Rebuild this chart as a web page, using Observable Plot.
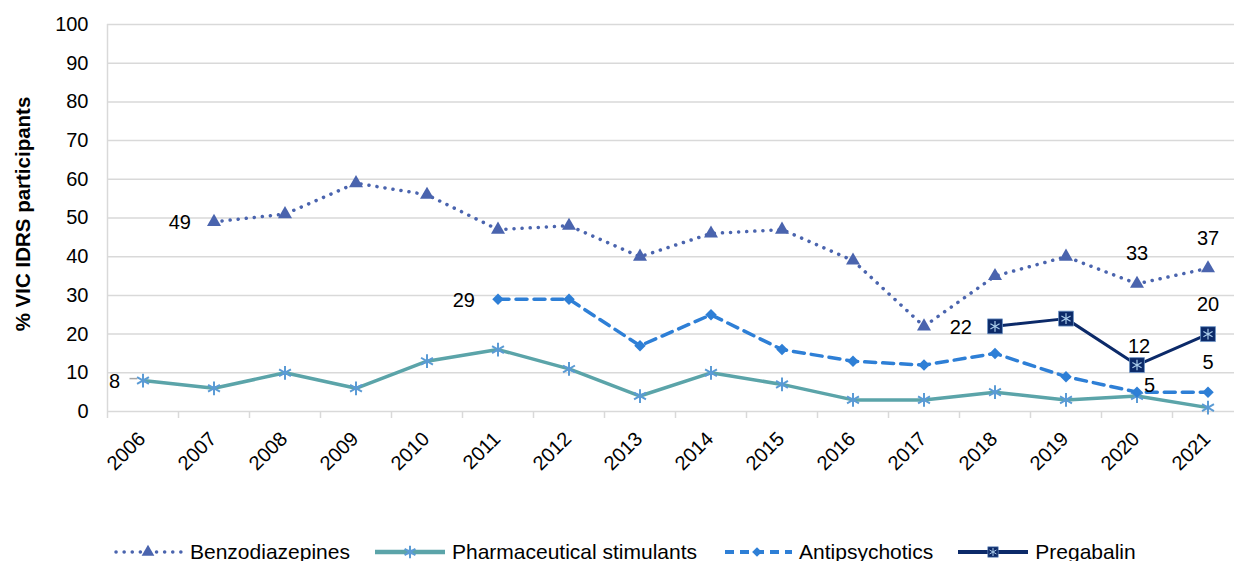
<!DOCTYPE html>
<html>
<head>
<meta charset="utf-8">
<script src="https://cdn.jsdelivr.net/npm/d3@7"></script>
<script src="https://cdn.jsdelivr.net/npm/@observablehq/plot@0.6"></script>
<style>
  html, body { margin: 0; padding: 0; background: #fff; }
  body { width: 1234px; height: 561px; overflow: hidden; font-family: "Liberation Sans", Arial, sans-serif; }
  #chart svg { display: block; }
  #legend { display: flex; align-items: center; height: 24px; line-height: 24px; font-size: 21px; color: #000; padding-left: 113px; white-space: nowrap; }
  .item { display: flex; align-items: center; margin-right: 25px; }
  .item svg { margin-right: 7px; display: block; }
</style>
</head>
<body>
<div id="chart"></div>
<div id="legend"></div>
<script>
const years = [2006, 2007, 2008, 2009, 2010, 2011, 2012, 2013, 2014, 2015, 2016, 2017, 2018, 2019, 2020, 2021];
const benzodiazepines = [null, 49, 51, 59, 56, 47, 48, 40, 46, 47, 39, 22, 35, 40, 33, 37];
const stimulants = [8, 6, 10, 6, 13, 16, 11, 4, 10, 7, 3, 3, 5, 3, 4, 1];
const antipsychotics = [null, null, null, null, null, 29, 29, 17, 25, 16, 13, 12, 15, 9, 5, 5];
const pregabalin = [null, null, null, null, null, null, null, null, null, null, null, null, 22, 24, 12, 20];
const seriesNames = ["Benzodiazepines", "Pharmaceutical stimulants", "Antipsychotics", "Pregabalin"];
const yTicks = [0, 10, 20, 30, 40, 50, 60, 70, 80, 90, 100];
const yTitle = "% VIC IDRS participants";
// labelled points: series index and year
const labelled = [
  {s: 0, year: 2007, place: "left"},
  {s: 0, year: 2020, place: "above"},
  {s: 0, year: 2021, place: "above"},
  {s: 1, year: 2006, place: "left"},
  {s: 2, year: 2011, place: "left"},
  {s: 2, year: 2020, place: "right"},
  {s: 2, year: 2021, place: "above"},
  {s: 3, year: 2018, place: "left"},
  {s: 3, year: 2020, place: "near"},
  {s: 3, year: 2021, place: "above"}
];

const C = {
  benzo: "#4A64AE",
  stimLine: "#5BA4A9",
  stimMark: "#5B9BD5",
  anti: "#2E7FD6",
  preg: "#0C2A69",
  pregInner: "#A9CBEA",
  grid: "#D9D9D9"
};

const allSeries = [benzodiazepines, stimulants, antipsychotics, pregabalin];
const toRows = arr => years.map((y, i) => ({year: y, value: arr[i]})).filter(d => d.value != null);
const rows = allSeries.map(toRows);
const boundaries = d3.range(years.length + 1).map(i => years[0] - 0.5 + i);

const labelRows = labelled.map(l => ({...l, value: allSeries[l.s][years.indexOf(l.year)]}));
const byPlace = p => labelRows.filter(d => d.place === p);
const labelStyle = {x: "year", y: "value", text: d => String(d.value), fill: "#000", fontSize: 20};

const chart = Plot.plot({
  width: 1234,
  height: 540,
  marginLeft: 107,
  marginRight: -9,
  marginTop: 24,
  marginBottom: 129,
  style: {fontFamily: "Liberation Sans, Arial, sans-serif", fontSize: "20px", color: "#000", background: "#fff", overflow: "hidden"},
  x: {type: "linear", domain: [years[0] - 0.5, years[years.length - 1] + 0.5]},
  y: {domain: [0, 100]},
  marks: [
    Plot.ruleY(yTicks, {stroke: C.grid, strokeWidth: 1.5}),
    Plot.ruleX([years[0] - 0.5], {y1: 0, y2: 100, stroke: C.grid, strokeWidth: 1.5}),
    Plot.axisX({ticks: boundaries, tickSize: 7, tickFormat: () => "", stroke: C.grid, strokeWidth: 1.5, label: null}),
    Plot.axisX({ticks: years, tickSize: 0, tickFormat: d => String(d), tickRotate: -45, tickPadding: 24, dx: -1, fontSize: 20, fill: "#000", label: null}),
    Plot.axisY({ticks: yTicks, tickSize: 0, tickPadding: 19, fontSize: 20, fill: "#000", label: null}),
    Plot.text([yTitle], {text: d => d, frameAnchor: "left", textAnchor: "middle", lineAnchor: "middle", rotate: -90, dx: -84.5, dy: -4, fontSize: 20.5, fontWeight: "bold", fill: "#000"}),
    // Benzodiazepines
    Plot.line(rows[0], {x: "year", y: "value", stroke: C.benzo, strokeWidth: 3.5, strokeDasharray: "0.1 8", strokeLinecap: "round"}),
    Plot.dot(rows[0], {x: "year", y: "value", symbol: "triangle", r: 5.2, fill: C.benzo}),
    // Pharmaceutical stimulants
    Plot.line(rows[1], {x: "year", y: "value", stroke: C.stimLine, strokeWidth: 3.5}),
    Plot.dot(rows[1], {x: "year", y: "value", symbol: "asterisk", r: 6.5, stroke: C.stimMark, strokeWidth: 2}),
    // Antipsychotics
    Plot.line(rows[2], {x: "year", y: "value", stroke: C.anti, strokeWidth: 3.5, strokeDasharray: "11 7"}),
    Plot.dot(rows[2], {x: "year", y: "value", symbol: "diamond2", r: 5.2, fill: C.anti}),
    // Pregabalin
    Plot.line(rows[3], {x: "year", y: "value", stroke: C.preg, strokeWidth: 3}),
    Plot.dot(rows[3], {x: "year", y: "value", symbol: "square", r: 8.4, fill: C.preg, stroke: "#6F95C8", strokeWidth: 0.8}),
    Plot.dot(rows[3], {x: "year", y: "value", symbol: "asterisk", r: 5, stroke: C.pregInner, strokeWidth: 1.2}),
    // leader line for the first stimulants label
    Plot.link(labelRows.filter(d => d.s === 1), {x1: d => d.year - 0.19, x2: d => d.year - 0.08, y1: d => d.value + 0.5, y2: d => d.value + 0.5, stroke: "#A6A6A6", strokeWidth: 1.5}),
    // data labels
    Plot.text(byPlace("left"), {...labelStyle, textAnchor: "end", dx: -23, dy: 1}),
    Plot.text(byPlace("above"), {...labelStyle, textAnchor: "middle", dy: -30}),
    Plot.text(byPlace("near"), {...labelStyle, textAnchor: "middle", dx: 2, dy: -18}),
    Plot.text(byPlace("right"), {...labelStyle, textAnchor: "start", dx: 7, dy: -7})
  ]
});
document.getElementById("chart").appendChild(chart);

// legend (below the chart)
const legendSpecs = [
  {name: seriesNames[0], line: C.benzo, width: 3.5, dash: "0.1 8", cap: "round", symbol: d3.symbolTriangle, size: 70, fill: C.benzo},
  {name: seriesNames[1], line: C.stimLine, width: 4.5, dash: null, cap: "butt", symbol: d3.symbolAsterisk, size: 110, stroke: C.stimMark, sw: 2},
  {name: seriesNames[2], line: C.anti, width: 4, dash: "9 6", cap: "butt", symbol: d3.symbolDiamond2, size: 60, fill: C.anti},
  {name: seriesNames[3], line: C.preg, width: 4, dash: null, cap: "butt", symbol: d3.symbolSquare, size: 110, fill: C.preg, inner: true}
];
const legend = d3.select("#legend");
for (const s of legendSpecs) {
  const item = legend.append("div").attr("class", "item");
  const svg = item.append("svg").attr("width", 70).attr("height", 24);
  svg.append("line").attr("x1", s.dash ? 3 : 0).attr("x2", 70).attr("y1", 12).attr("y2", 12)
    .attr("stroke", s.line).attr("stroke-width", s.width).attr("stroke-linecap", s.cap)
    .attr("stroke-dasharray", s.dash);
  const p = svg.append("path").attr("transform", "translate(35,12)").attr("d", d3.symbol(s.symbol, s.size)());
  if (s.fill) p.attr("fill", s.fill); else p.attr("fill", "none");
  if (s.stroke) p.attr("stroke", s.stroke).attr("stroke-width", s.sw);
  if (s.inner) {
    p.attr("stroke", "#6F95C8").attr("stroke-width", 0.6);
    svg.append("path").attr("transform", "translate(35,12)").attr("d", d3.symbol(d3.symbolAsterisk, 45)())
      .attr("fill", "none").attr("stroke", C.pregInner).attr("stroke-width", 1);
  }
  item.append("span").text(s.name);
}
</script>
</body>
</html>
